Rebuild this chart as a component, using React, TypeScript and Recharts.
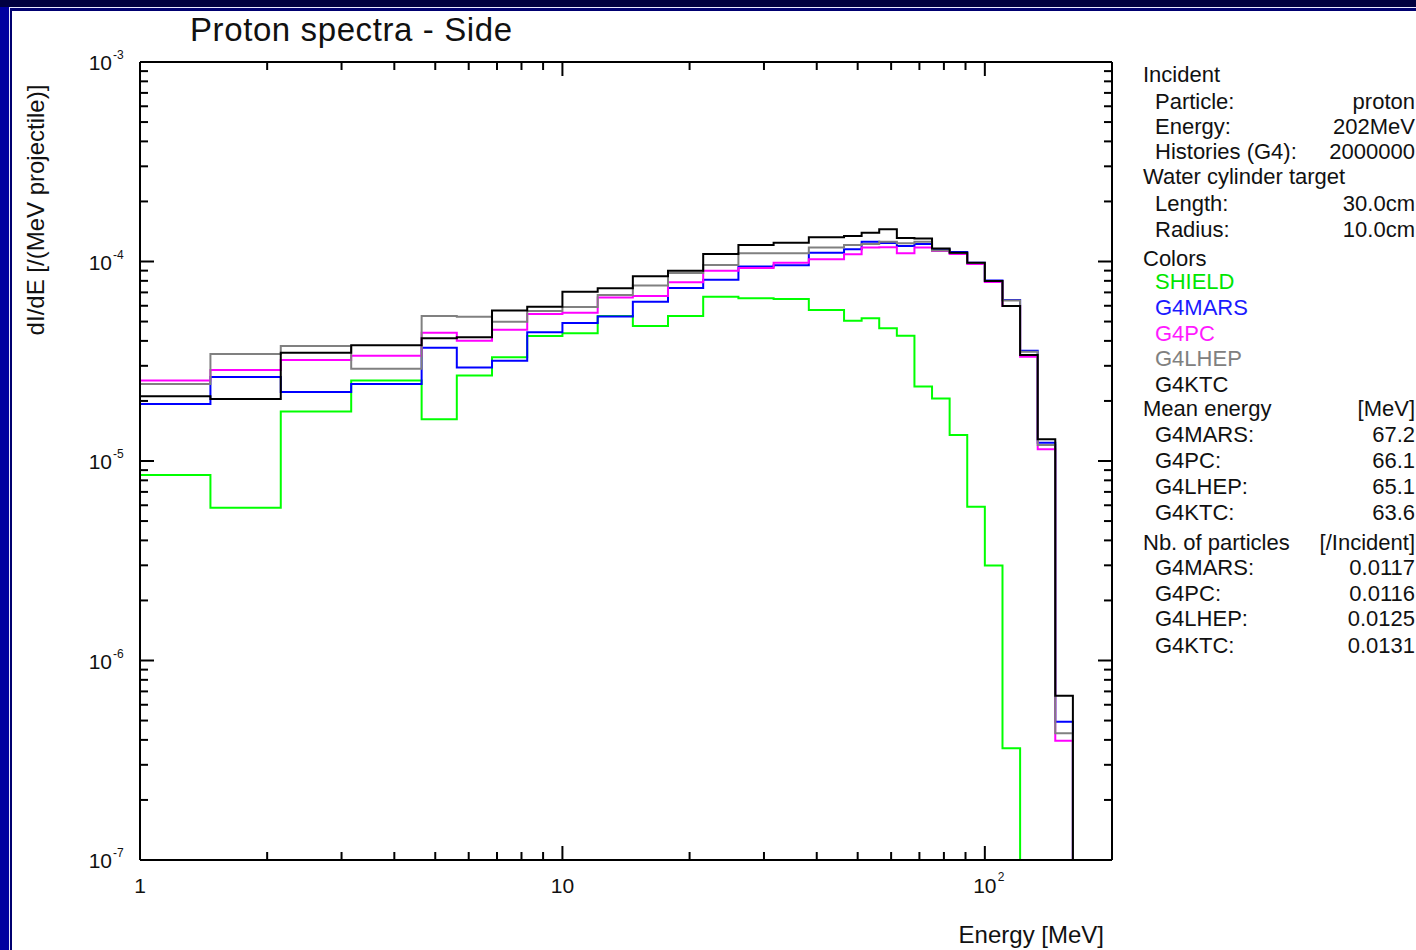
import React from 'react';
import { LineChart, Line, XAxis, YAxis } from 'recharts';

// Bin edges (MeV)
const EDGES = [1, 1.468, 2.154, 3.162, 4.642, 5.623, 6.813, 8.254, 10, 12.12, 14.68, 17.78, 21.54, 26.1, 31.62, 38.31, 46.42, 51.09, 56.23, 61.9, 68.13, 74.99, 82.54, 90.85, 100, 110.1, 121.2, 133.4, 146.8, 161.6];

// Bin contents dI/dE [/(MeV projectile)]
const SHIELD = [8.51e-6, 5.83e-6, 1.77e-5, 2.53e-5, 1.62e-5, 2.68e-5, 3.31e-5, 4.23e-5, 4.37e-5, 5.33e-5, 4.75e-5, 5.33e-5, 6.66e-5, 6.54e-5, 6.49e-5, 5.71e-5, 5.05e-5, 5.19e-5, 4.63e-5, 4.25e-5, 2.36e-5, 2.06e-5, 1.35e-5, 5.9e-6, 2.99e-6, 3.63e-7, 0, 0, 0];
const G4MARS = [1.93e-5, 2.64e-5, 2.22e-5, 2.43e-5, 3.7e-5, 2.94e-5, 3.18e-5, 4.42e-5, 4.92e-5, 5.3e-5, 6.29e-5, 7.37e-5, 8.11e-5, 9.44e-5, 9.57e-5, 1.107e-4, 1.151e-4, 1.257e-4, 1.238e-4, 1.196e-4, 1.224e-4, 1.149e-4, 1.116e-4, 9.86e-5, 8.03e-5, 6.41e-5, 3.57e-5, 1.235e-5, 4.93e-7];
const G4PC = [2.53e-5, 2.86e-5, 3.21e-5, 3.37e-5, 4.4e-5, 4.01e-5, 4.55e-5, 5.45e-5, 5.54e-5, 6.6e-5, 6.71e-5, 7.86e-5, 8.99e-5, 9.28e-5, 9.86e-5, 1.026e-4, 1.087e-4, 1.175e-4, 1.18e-4, 1.1e-4, 1.175e-4, 1.129e-4, 1.09e-4, 9.72e-5, 7.89e-5, 5.98e-5, 3.33e-5, 1.144e-5, 3.96e-7];
const G4LHEP = [2.43e-5, 3.44e-5, 3.77e-5, 2.9e-5, 5.33e-5, 5.29e-5, 4.99e-5, 5.65e-5, 5.91e-5, 6.79e-5, 7.58e-5, 8.76e-5, 9.6e-5, 1.1e-4, 1.1e-4, 1.175e-4, 1.21e-4, 1.224e-4, 1.257e-4, 1.234e-4, 1.257e-4, 1.135e-4, 1.103e-4, 9.83e-5, 7.99e-5, 6.37e-5, 3.53e-5, 1.203e-5, 4.32e-7];
const G4KTC = [2.11e-5, 2.045e-5, 3.49e-5, 3.8e-5, 4.12e-5, 4.17e-5, 5.68e-5, 5.93e-5, 7.06e-5, 7.34e-5, 8.43e-5, 8.99e-5, 1.09e-4, 1.21e-4, 1.243e-4, 1.322e-4, 1.342e-4, 1.394e-4, 1.45e-4, 1.311e-4, 1.304e-4, 1.162e-4, 1.107e-4, 9.86e-5, 7.99e-5, 5.98e-5, 3.4e-5, 1.285e-5, 6.66e-7];

// Axis ticks
const X_MAJOR = [1, 10, 100];
const X_MAJOR_BASE = ['1', '10', '10'];
const X_MAJOR_SUP = ['', '', '2'];
const Y_MAJOR = [1e-7, 1e-6, 1e-5, 1e-4, 1e-3];
const Y_MAJOR_SUP = ['-7', '-6', '-5', '-4', '-3'];
const MINOR_MULT = [2, 3, 4, 5, 6, 7, 8, 9];

// Side panel texts
const INFO_LINES: { text: string; value?: string; indent: boolean; y: number; color?: string }[] = [
  { text: 'Incident', indent: false, y: 74.5 },
  { text: 'Particle:', value: 'proton', indent: true, y: 101.5 },
  { text: 'Energy:', value: '202MeV', indent: true, y: 126.5 },
  { text: 'Histories (G4):', value: '2000000', indent: true, y: 152 },
  { text: 'Water cylinder target', indent: false, y: 176.5 },
  { text: 'Length:', value: '30.0cm', indent: true, y: 204 },
  { text: 'Radius:', value: '10.0cm', indent: true, y: 229.5 },
  { text: 'Colors', indent: false, y: 258.5 },
  { text: 'SHIELD', indent: true, y: 282, color: '#00e600' },
  { text: 'G4MARS', indent: true, y: 308, color: '#1a1aff' },
  { text: 'G4PC', indent: true, y: 333.5, color: '#ff1aff' },
  { text: 'G4LHEP', indent: true, y: 359, color: '#808080' },
  { text: 'G4KTC', indent: true, y: 385, color: '#111' },
  { text: 'Mean energy', value: '[MeV]', indent: false, y: 409 },
  { text: 'G4MARS:', value: '67.2', indent: true, y: 435 },
  { text: 'G4PC:', value: '66.1', indent: true, y: 460.5 },
  { text: 'G4LHEP:', value: '65.1', indent: true, y: 487 },
  { text: 'G4KTC:', value: '63.6', indent: true, y: 512.5 },
  { text: 'Nb. of particles', value: '[/Incident]', indent: false, y: 542.5 },
  { text: 'G4MARS:', value: '0.0117', indent: true, y: 567.5 },
  { text: 'G4PC:', value: '0.0116', indent: true, y: 594 },
  { text: 'G4LHEP:', value: '0.0125', indent: true, y: 619 },
  { text: 'G4KTC:', value: '0.0131', indent: true, y: 645.5 },
];

const FLOOR = 1e-9;
const val = (arr: number[], i: number) => (i < arr.length && arr[i] > 0 ? arr[i] : FLOOR);
const data = EDGES.map((e, i) => ({
  e,
  shield: val(SHIELD, i),
  mars: val(G4MARS, i),
  pc: val(G4PC, i),
  lhep: val(G4LHEP, i),
  ktc: val(G4KTC, i),
}));

const X_TICKS: number[] = [];
X_MAJOR.forEach((m, i) => {
  X_TICKS.push(m);
  if (i < X_MAJOR.length - 1) MINOR_MULT.forEach((k) => X_TICKS.push(m * k));
});
const Y_TICKS: number[] = [];
Y_MAJOR.forEach((m, i) => {
  Y_TICKS.push(m);
  if (i < Y_MAJOR.length - 1) MINOR_MULT.forEach((k) => Y_TICKS.push(m * k));
});

const FONT = "'Liberation Sans', Arial, Helvetica, sans-serif";
const isMajor = (v: number) => {
  const l = Math.log10(v);
  return Math.abs(l - Math.round(l)) < 1e-6;
};

const XTick = (props: any) => {
  const { x, y, payload, side } = props;
  const v = payload.value;
  const major = isMajor(v);
  const len = major ? 14 : 8;
  const dir = side === 'bottom' ? -1 : 1;
  let label = null;
  if (side === 'bottom' && major) {
    const idx = X_MAJOR.findIndex((m) => Math.abs(Math.log10(m) - Math.log10(v)) < 1e-6);
    if (idx >= 0) {
      label = (
        <g>
          <text x={x} y={y + 33} textAnchor="middle" fontSize={21} fontFamily={FONT} fill="#111">
            {X_MAJOR_BASE[idx]}
          </text>
          {X_MAJOR_SUP[idx] && (
            <text x={x + 13} y={y + 21} textAnchor="start" fontSize={12} fontFamily={FONT} fill="#111">
              {X_MAJOR_SUP[idx]}
            </text>
          )}
        </g>
      );
    }
  }
  return (
    <g>
      <line x1={x} y1={y} x2={x} y2={y + dir * len} stroke="#000" strokeWidth={2} />
      {label}
    </g>
  );
};

const YTick = (props: any) => {
  const { x, y, payload, side } = props;
  const v = payload.value;
  const major = isMajor(v);
  const len = major ? 14 : 8;
  const dir = side === 'left' ? 1 : -1;
  let label = null;
  if (side === 'left' && major) {
    const idx = Y_MAJOR.findIndex((m) => Math.abs(Math.log10(m) - Math.log10(v)) < 1e-6);
    if (idx >= 0) {
      label = (
        <g>
          <text x={x - 28} y={y + 8} textAnchor="end" fontSize={21} fontFamily={FONT} fill="#111">
            10
          </text>
          <text x={x - 27} y={y - 3} textAnchor="start" fontSize={12} fontFamily={FONT} fill="#111">
            {Y_MAJOR_SUP[idx]}
          </text>
        </g>
      );
    }
  }
  return (
    <g>
      <line x1={x} y1={y} x2={x + dir * len} y2={y} stroke="#000" strokeWidth={2} />
      {label}
    </g>
  );
};

const axisLine = { stroke: '#000', strokeWidth: 2 };

export default function App() {
  return (
    <div
      style={{
        position: 'absolute',
        left: 0,
        top: 0,
        width: 1416,
        height: 950,
        overflow: 'hidden',
        background: '#0000a0',
        fontFamily: FONT,
      }}
    >
      <div style={{ position: 'absolute', left: 0, top: 0, width: 1416, height: 7, background: '#000040' }} />
      <div style={{ position: 'absolute', left: 9, top: 7, right: 0, bottom: 0, background: '#e8e8ff' }} />
      <div style={{ position: 'absolute', left: 10, top: 8, right: 0, bottom: 0, background: '#000070' }} />
      <div style={{ position: 'absolute', left: 12, top: 11, right: 0, bottom: 0, background: '#ffffff' }} />

      <div style={{ position: 'absolute', left: 0, top: 0 }}>
        <LineChart width={1130} height={950} data={data} margin={{ top: 32, right: 0, bottom: 0, left: 0 }}>
          <XAxis
            xAxisId="b"
            dataKey="e"
            type="number"
            scale="log"
            domain={[1, 200]}
            allowDataOverflow
            ticks={X_TICKS}
            interval={0}
            tickLine={false}
            tickSize={0}
            tickMargin={0}
            axisLine={axisLine}
            height={90}
            tick={(p: any) => <XTick {...p} side="bottom" />}
          />
          <XAxis
            xAxisId="t"
            orientation="top"
            dataKey="e"
            type="number"
            scale="log"
            domain={[1, 200]}
            allowDataOverflow
            ticks={X_TICKS}
            interval={0}
            tickLine={false}
            tickSize={0}
            tickMargin={0}
            axisLine={axisLine}
            height={30}
            tick={(p: any) => <XTick {...p} side="top" />}
          />
          <YAxis
            yAxisId="l"
            type="number"
            scale="log"
            domain={[1e-7, 1e-3]}
            allowDataOverflow
            ticks={Y_TICKS}
            interval={0}
            tickLine={false}
            tickSize={0}
            tickMargin={0}
            axisLine={axisLine}
            width={140}
            tick={(p: any) => <YTick {...p} side="left" />}
          />
          <YAxis
            yAxisId="r"
            orientation="right"
            type="number"
            scale="log"
            domain={[1e-7, 1e-3]}
            allowDataOverflow
            ticks={Y_TICKS}
            interval={0}
            tickLine={false}
            tickSize={0}
            tickMargin={0}
            axisLine={axisLine}
            width={18}
            tick={(p: any) => <YTick {...p} side="right" />}
          />
          <Line xAxisId="b" yAxisId="l" type="stepAfter" dataKey="shield" stroke="#00ff00" strokeWidth={2} dot={false} isAnimationActive={false} />
          <Line xAxisId="b" yAxisId="l" type="stepAfter" dataKey="mars" stroke="#0000ff" strokeWidth={2} dot={false} isAnimationActive={false} />
          <Line xAxisId="b" yAxisId="l" type="stepAfter" dataKey="pc" stroke="#ff00ff" strokeWidth={2} dot={false} isAnimationActive={false} />
          <Line xAxisId="b" yAxisId="l" type="stepAfter" dataKey="lhep" stroke="#808080" strokeWidth={2} dot={false} isAnimationActive={false} />
          <Line xAxisId="b" yAxisId="l" type="stepAfter" dataKey="ktc" stroke="#000000" strokeWidth={2} dot={false} isAnimationActive={false} />
        </LineChart>
      </div>

      <div
        style={{
          position: 'absolute',
          left: 190,
          top: 13,
          fontSize: 33,
          lineHeight: '33px',
          color: '#111',
          whiteSpace: 'nowrap',
          letterSpacing: 0.6,
        }}
      >
        Proton spectra - Side
      </div>

      <div
        style={{
          position: 'absolute',
          left: 36,
          top: 210,
          transform: 'translate(-50%, -50%) rotate(-90deg)',
          fontSize: 24,
          lineHeight: '24px',
          color: '#111',
          whiteSpace: 'nowrap',
        }}
      >
        dI/dE [/(MeV projectile)]
      </div>

      <div
        style={{
          position: 'absolute',
          right: 1416 - 1104,
          top: 935 - 12,
          fontSize: 24,
          lineHeight: '24px',
          color: '#111',
          whiteSpace: 'nowrap',
        }}
      >
        Energy [MeV]
      </div>

      {INFO_LINES.map((l, i) => (
        <React.Fragment key={i}>
          <div
            style={{
              position: 'absolute',
              left: l.indent ? 1155 : 1143,
              top: l.y - 11,
              fontSize: 22,
              lineHeight: '22px',
              color: l.color || '#111',
              whiteSpace: 'nowrap',
            }}
          >
            {l.text}
          </div>
          {l.value && (
            <div
              style={{
                position: 'absolute',
                right: 1416 - 1415,
                top: l.y - 11,
                fontSize: 22,
                lineHeight: '22px',
                color: '#111',
                whiteSpace: 'nowrap',
                textAlign: 'right',
              }}
            >
              {l.value}
            </div>
          )}
        </React.Fragment>
      ))}
    </div>
  );
}
